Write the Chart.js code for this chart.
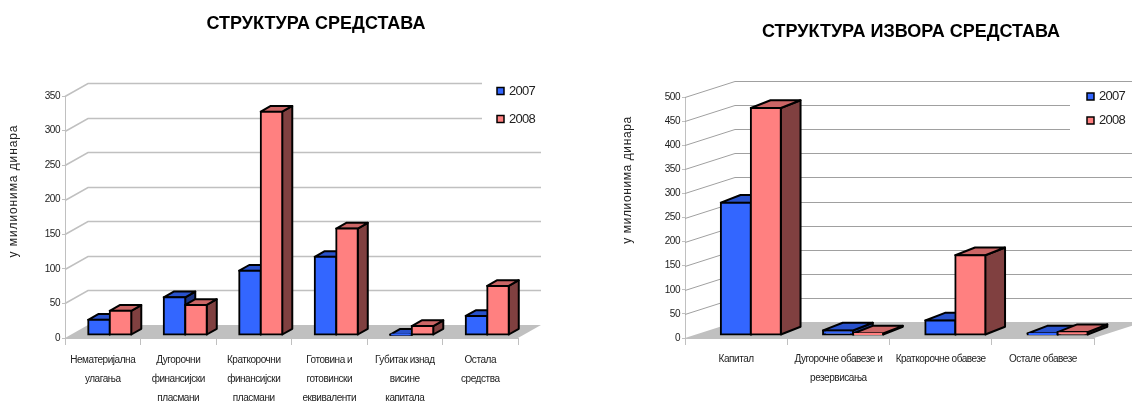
<!DOCTYPE html>
<html>
<head>
<meta charset="utf-8">
<style>
  html, body { margin: 0; padding: 0; background: #fff; overflow: hidden; }
  canvas { position: absolute; top: 0; }
</style>
<script src="https://cdn.jsdelivr.net/npm/chart.js@4"></script>
</head>
<body>
<canvas id="assets" width="566" height="402" style="left:0"></canvas>
<canvas id="sources" width="566" height="402" style="left:566px"></canvas>
<script>
const years = ["2007", "2008"];
const yAxisLabel = "у милионима динара";

const assetsTitle = "СТРУКТУРА СРЕДСТАВА";
const assetsCategories = [
  ["Нематеријална", "улагања"],
  ["Дугорочни", "финансијски", "пласмани"],
  ["Краткорочни", "финансијски", "пласмани"],
  ["Готовина и", "готовински", "еквиваленти"],
  ["Губитак изнад", "висине", "капитала"],
  ["Остала", "средства"],
];
const assets2007 = [22, 54.5, 93, 113, 0.5, 27.5];
const assets2008 = [35, 43.5, 323, 154, 13, 71];

const sourcesTitle = "СТРУКТУРА ИЗВОРА СРЕДСТАВА";
const sourcesCategories = [
  "Капитал",
  ["Дугорочне обавезе и", "резервисања"],
  "Краткорочне обавезе",
  "Остале обавезе",
];
const sources2007 = [274.5, 9.5, 30, 3];
const sources2008 = [471, 3, 165.5, 6];

const FONT = "'Liberation Sans', Arial, sans-serif";
const BLUE = { front: "#3366ff", top: "#2952cc", side: "#1a3380" };
const RED = { front: "#ff8080", top: "#cc6666", side: "#804040" };

function poly(ctx, pts, fill) {
  ctx.beginPath();
  pts.forEach((p, i) => (i ? ctx.lineTo(p[0], p[1]) : ctx.moveTo(p[0], p[1])));
  ctx.closePath();
  ctx.fillStyle = fill;
  ctx.fill();
  ctx.stroke();
}

// fake 3D: floor and back wall under the bars, extruded sides on each bar, plus title and legend
const fake3d = {
  id: "fake3d",
  beforeDraw(chart) {
    // the reference text is set tight, this also covers the tick labels
    chart.ctx.letterSpacing = "-0.45px";
  },
  beforeDatasetsDraw(chart, args, o) {
    const { ctx, chartArea: a, scales } = chart;
    const y0 = scales.y.getPixelForValue(0);
    ctx.save();
    ctx.fillStyle = "#c0c0c0";
    ctx.beginPath();
    ctx.moveTo(a.left, y0);
    ctx.lineTo(a.left + o.wall.dx, y0 - o.wall.dy);
    ctx.lineTo(a.right + o.wall.dx, y0 - o.wall.dy);
    ctx.lineTo(a.right, y0);
    ctx.closePath();
    ctx.fill();

    ctx.strokeStyle = o.gridColor;
    ctx.lineWidth = o.gridWidth;
    scales.y.ticks.forEach((t) => {
      if (t.value === 0) return;
      const y = Math.round(scales.y.getPixelForValue(t.value)) + 0.5;
      ctx.beginPath();
      ctx.moveTo(a.left, y);
      ctx.lineTo(a.left + o.wall.dx, y - o.wall.dy);
      ctx.lineTo(a.right + o.wall.dx, y - o.wall.dy);
      ctx.stroke();
    });

    // the legend box hides the end of the top grid lines
    ctx.fillStyle = "#fff";
    ctx.fillRect(o.legend.boxX, o.legend.boxY, 80, o.legend.boxH);
    ctx.restore();

    // 2007 has to go first so that 2008 covers its side, chart.js itself draws the last dataset first
    chart.data.datasets.forEach((ds, i) => {
      const meta = chart.getDatasetMeta(i);
      const colors = i === 0 ? BLUE : RED;
      ctx.save();
      ctx.translate(o.front.dx, -o.front.dy);
      ctx.strokeStyle = "#000";
      ctx.lineWidth = 2;
      ctx.lineJoin = "round";
      meta.data.forEach((bar) => {
        const p = bar.getProps(["x", "y", "base", "width"], true);
        const l = p.x - p.width / 2;
        const r = p.x + p.width / 2;
        const dx = o.bar.dx;
        const dy = o.bar.dy;
        poly(ctx, [[r, p.y], [r + dx, p.y - dy], [r + dx, p.base - dy], [r, p.base]], colors.side);
        poly(ctx, [[l, p.y], [l + dx, p.y - dy], [r + dx, p.y - dy], [r, p.y]], colors.top);
      });
      meta.controller.draw();
      ctx.restore();
    });
    return false;
  },
  afterDraw(chart, args, o) {
    const { ctx } = chart;
    ctx.save();
    ctx.textBaseline = "middle";

    ctx.letterSpacing = "0px";
    ctx.fillStyle = "#000";
    ctx.textAlign = "center";
    ctx.font = "bold 18px " + FONT;
    ctx.fillText(o.title, o.titleX, o.titleY);

    ctx.letterSpacing = o.axisSpacing;
    ctx.fillStyle = "#222";
    ctx.font = "12px " + FONT;
    ctx.translate(o.axisX, o.axisY);
    ctx.rotate(-Math.PI / 2);
    ctx.fillText(yAxisLabel, 0, 0);
    ctx.restore();

    ctx.save();
    ctx.textBaseline = "middle";
    ctx.letterSpacing = "-0.7px";
    ctx.font = "13px " + FONT;
    ctx.strokeStyle = "#000";
    ctx.lineWidth = 1.5;
    chart.data.datasets.forEach((ds, i) => {
      const y = o.legend.ys[i];
      ctx.fillStyle = ds.backgroundColor;
      ctx.fillRect(o.legend.x, y - 3.5, 7, 7);
      ctx.strokeRect(o.legend.x, y - 3.5, 7, 7);
      ctx.fillStyle = "#222";
      ctx.fillText(ds.label, o.legend.x + 12, y);
    });
    ctx.restore();
  },
};

function makeChart(id, labels, first, second, maxY, look) {
  return new Chart(document.getElementById(id), {
    type: "bar",
    data: {
      labels: labels,
      datasets: [
        { label: years[0], data: first, backgroundColor: BLUE.front, borderColor: "#000", borderWidth: 2, borderSkipped: false, inflateAmount: 1, clip: false },
        { label: years[1], data: second, backgroundColor: RED.front, borderColor: "#000", borderWidth: 2, borderSkipped: false, inflateAmount: 1, clip: false },
      ],
    },
    options: {
      responsive: false,
      animation: false,
      layout: { padding: { left: 0, top: look.top, right: look.right, bottom: 0 } },
      datasets: { bar: { barPercentage: 1, categoryPercentage: look.barShare } },
      scales: {
        x: {
          afterFit: (s) => { s.height = 402 - look.bottom; },
          grid: { drawOnChartArea: false, drawTicks: true, tickLength: 7, color: "#c0c0c0" },
          border: { color: "#c0c0c0" },
          ticks: {
            autoSkip: false, maxRotation: 0, minRotation: 0, padding: look.labelGap, color: "#222",
            font: { family: FONT, size: 10, lineHeight: 1.9 },
          },
        },
        y: {
          min: 0,
          max: maxY,
          afterFit: (s) => { s.width = look.left; },
          grid: { drawOnChartArea: false, drawTicks: true, tickLength: 3, color: "#c0c0c0" },
          border: { color: "#c0c0c0" },
          ticks: { stepSize: 50, padding: 2, color: "#222", font: { family: FONT, size: 10 } },
        },
      },
      plugins: {
        legend: { display: false },
        title: { display: false },
        tooltip: { enabled: false },
        fake3d: look.scene,
      },
    },
    plugins: [fake3d],
  });
}

makeChart("assets", assetsCategories, assets2007, assets2008, 350, {
  left: 65, right: 48, top: 96, bottom: 338, barShare: 0.57, labelGap: 6,
  scene: {
    title: assetsTitle, titleX: 316, titleY: 24,
    axisX: 14, axisY: 191, axisSpacing: "0.9px",
    wall: { dx: 23, dy: 13 }, bar: { dx: 10, dy: 5.7 }, front: { dx: 7, dy: 3 },
    gridColor: "#c0c0c0", gridWidth: 1.5,
    legend: { x: 497, ys: [91, 119], boxX: 482, boxY: 75, boxH: 48 },
  },
});

makeChart("sources", sourcesCategories, sources2007, sources2008, 500, {
  left: 119, right: 38, top: 97, bottom: 338, barShare: 0.587, labelGap: 5,
  scene: {
    title: sourcesTitle, titleX: 345, titleY: 32,
    axisX: 62, axisY: 180, axisSpacing: "0.6px",
    wall: { dx: 50, dy: 16 }, bar: { dx: 19.7, dy: 7.7 }, front: { dx: 14.7, dy: 3 },
    gridColor: "#a0a0a0", gridWidth: 1,
    legend: { x: 521, ys: [96.5, 120.5], boxX: 504, boxY: 86, boxH: 46 },
  },
});
</script>
</body>
</html>
